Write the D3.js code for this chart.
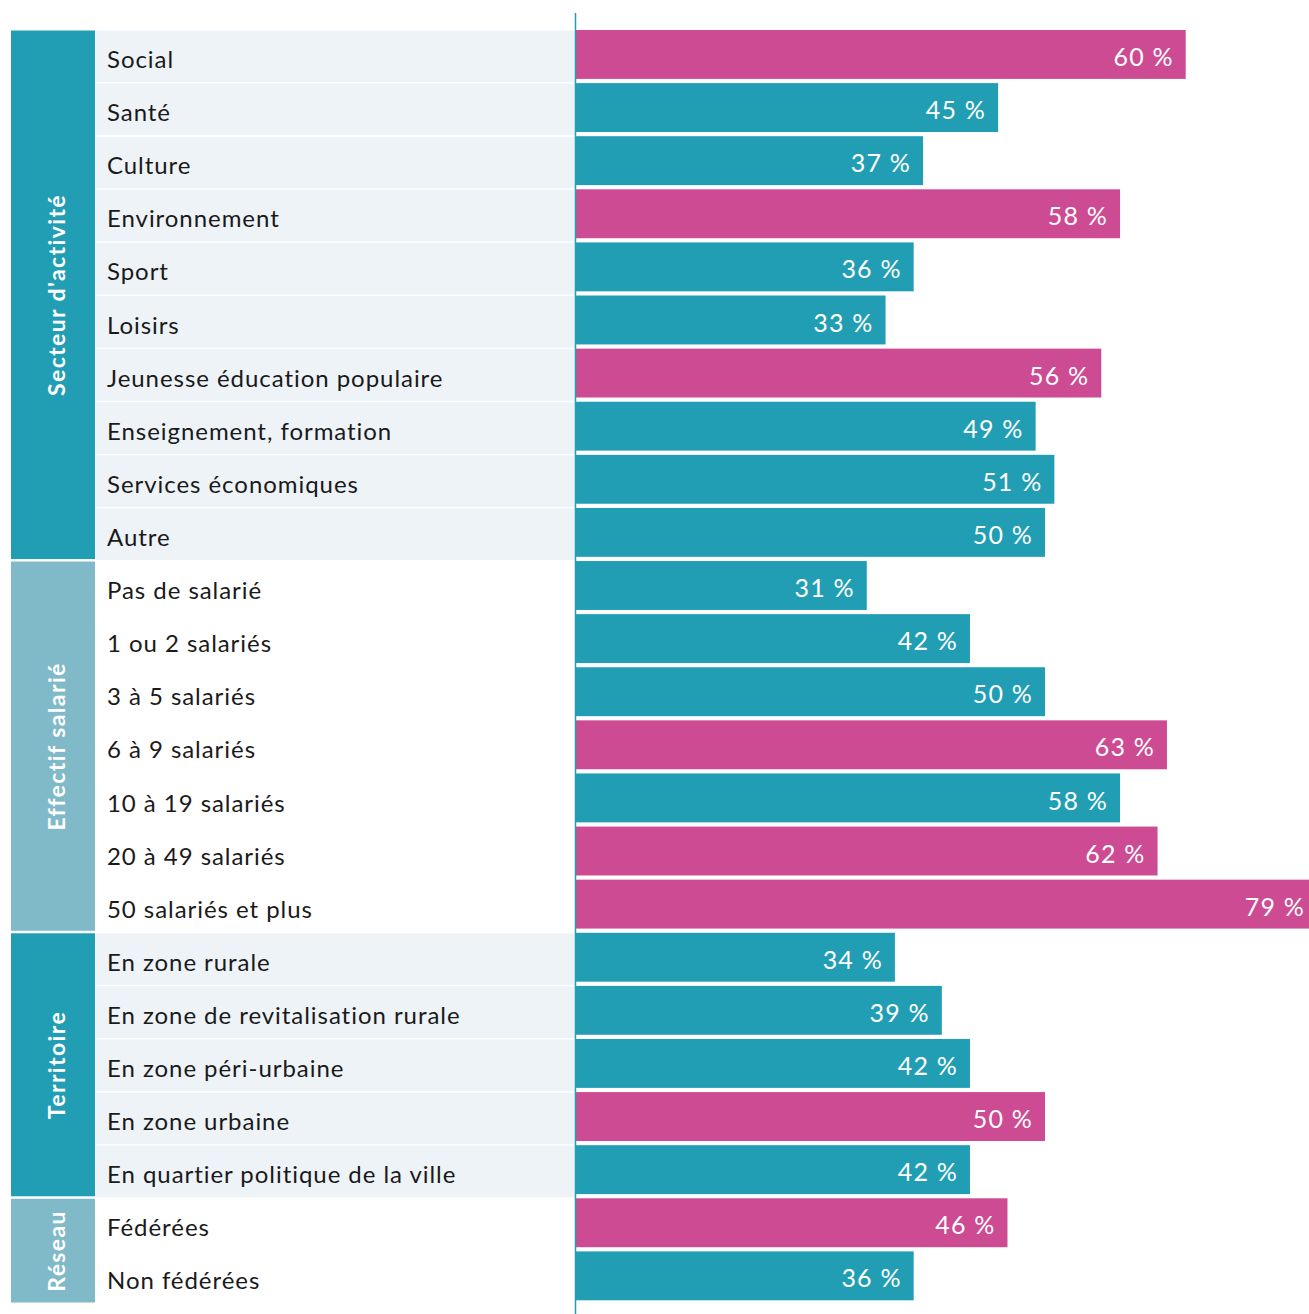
<!DOCTYPE html>
<html><head><meta charset="utf-8">
<script src="https://cdn.jsdelivr.net/npm/d3@7"></script>
<style>
html,body{margin:0;padding:0;background:#fff;}
svg{display:block;font-family:Lato,"Open Sans",sans-serif;}
</style></head>
<body>
<svg id="chart" width="1309" height="1314"></svg>
<script>
// ---- data ----
const categories = [
  "Social","Santé","Culture","Environnement","Sport","Loisirs",
  "Jeunesse éducation populaire","Enseignement, formation","Services économiques","Autre",
  "Pas de salarié","1 ou 2 salariés","3 à 5 salariés","6 à 9 salariés",
  "10 à 19 salariés","20 à 49 salariés","50 salariés et plus",
  "En zone rurale","En zone de revitalisation rurale","En zone péri-urbaine",
  "En zone urbaine","En quartier politique de la ville",
  "Fédérées","Non fédérées"
];
// bar lengths as drawn in the picture (%)
const values = [65,45,37,58,36,33,56,49,51,50, 31,42,50,63,58,62,79, 34,39,42,50,42, 46,36];
// printed value labels
const valueLabels = ["60 %","45 %","37 %","58 %","36 %","33 %","56 %","49 %","51 %","50 %",
  "31 %","42 %","50 %","63 %","58 %","62 %","79 %",
  "34 %","39 %","42 %","50 %","42 %","46 %","36 %"];
const highlighted = [true,false,false,true,false,false,true,false,false,false,
  false,false,false,true,false,true,true,
  false,false,false,true,false, true,false];
const groupNames = ["Secteur d'activité","Effectif salarié","Territoire","Réseau"];
const groupSizes = [10,7,5,2];

// ---- layout ----
const svg = d3.select("#chart");
const x0 = 576;
const x = d3.scaleLinear().domain([0,100]).range([x0, x0 + 938]);
const y = d3.scaleBand().domain(d3.range(categories.length)).range([30.5, 1305]).paddingInner(0).paddingOuter(0);
const step = y.step();

const TEAL = "#219eb4", PINK = "#cc4b93", LIGHT = "#80b9c8", ROWBG = "#eef3f8";

let start = 0;
const groups = groupNames.map((g,i)=>{ const o={name:g, start, end:start+groupSizes[i]-1, idx:i}; start+=groupSizes[i]; return o; });
const groupOf = [];
groups.forEach(g=>{ for(let k=g.start;k<=g.end;k++) groupOf[k]=g.idx; });

// row backgrounds (shaded for groups 0 and 2)
svg.append("g").selectAll("rect").data(categories).join("rect")
  .attr("x",96).attr("width",x0-96)
  .attr("y",(d,i)=>y(i)).attr("height",step-1.5)
  .attr("fill",(d,i)=> groupOf[i]%2===0 ? ROWBG : "#fff");

// group boxes
const gg = svg.append("g").selectAll("g").data(groups).join("g");
gg.append("rect")
  .attr("x",11).attr("width",84)
  .attr("y",d=>y(d.start)).attr("height",d=>y(d.end)+step-y(d.start)-2.5)
  .attr("fill",d=> d.idx%2===0 ? TEAL : LIGHT);
gg.append("text")
  .attr("transform",d=>{ const cy=(y(d.start)+y(d.end)+step)/2 - 1; return `translate(64.5,${cy}) rotate(-90)`; })
  .attr("text-anchor","middle")
  .attr("fill","#fff").attr("font-weight",700).attr("font-size",23)
  .attr("letter-spacing",1.4)
  .text(d=>d.name);

// category labels
svg.append("g").selectAll("text").data(categories).join("text")
  .attr("x",107).attr("y",(d,i)=>y(i)+step/2+11)
  .attr("fill","#1a1a1a").attr("font-size",24).attr("letter-spacing",0.95)
  .text(d=>d);

// bars
svg.append("g").selectAll("rect").data(values).join("rect")
  .attr("x",x(0)).attr("y",(d,i)=>y(i)-0.5).attr("height",step-4.2)
  .attr("width",d=>x(d)-x(0))
  .attr("fill",(d,i)=>highlighted[i]?PINK:TEAL);

// value labels
svg.append("g").selectAll("text").data(values).join("text")
  .attr("x",d=>x(d)-12).attr("y",(d,i)=>y(i)+step/2+9)
  .attr("text-anchor","end").attr("fill","#fff").attr("font-size",25)
  .attr("letter-spacing",1.2)
  .text((d,i)=>valueLabels[i]);

// axis line
svg.append("line").attr("x1",x(0)-0.5).attr("x2",x(0)-0.5).attr("y1",13).attr("y2",1314)
  .attr("stroke",TEAL).attr("stroke-width",1.5);
</script>
</body></html>
